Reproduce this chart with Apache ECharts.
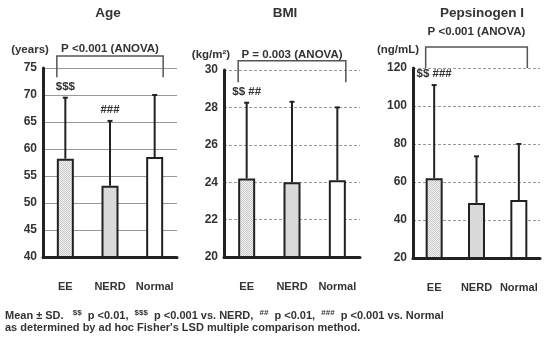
<!DOCTYPE html>
<html>
<head>
<meta charset="utf-8">
<script src="https://cdn.jsdelivr.net/npm/echarts@6/dist/echarts.min.js"></script>
<style>
  html, body { margin: 0; padding: 0; background: #fff; }
  #main { width: 545px; height: 340px; }
</style>
</head>
<body>
<div id="main"></div>
<script>
// data
const categories = ['EE', 'NERD', 'Normal'];
const ageMean = [58.2, 53.2, 58.5];
const ageSD = [11.3, 12.0, 11.5];
const bmiMean = [24.2, 24.0, 24.1];
const bmiSD = [4.05, 4.3, 3.9];
const pgMean = [62, 49, 50.5];
const pgSD = [49, 24.5, 29.5];
const ageMarks = ['$$$', '###', ''];
const bmiMarks = ['$$ ##', '', ''];
const pgMarks = ['$$ ###', '', ''];
const panelTitles = ['Age', 'BMI', 'Pepsinogen I'];
const unitLabels = ['(years)', '(kg/m²)', '(ng/mL)'];
const anovaLabels = ['P <0.001 (ANOVA)', 'P = 0.003 (ANOVA)', 'P <0.001 (ANOVA)'];
// bracket [top, end] in axis units
const bracketY = [[77.2, 73.3], [30.5, 29.35], [131, 120]];

const FONT = "'Liberation Sans', Arial, sans-serif";
const INK = '#222';

// dotted fill for EE bars
const pat = document.createElement('canvas');
pat.width = 2; pat.height = 2;
const pc = pat.getContext('2d');
pc.fillStyle = '#f3f3f3'; pc.fillRect(0, 0, 2, 2);
pc.fillStyle = '#c9c9c9'; pc.fillRect(0, 0, 1, 1); pc.fillRect(1, 1, 1, 1);
const barFills = [{ image: pat, repeat: 'repeat' }, '#d9d9d9', '#ffffff'];

const panels = [
  { mean: ageMean, sd: ageSD, marks: ageMarks, min: 40, max: 75, interval: 5, solid: true,
    grid: { left: 43, top: 68, width: 134, height: 189 }, titleX: 108, titleY: 13, unitX: 30, unitY: 50, pGap: 1 },
  { mean: bmiMean, sd: bmiSD, marks: bmiMarks, min: 20, max: 30, interval: 2, solid: false,
    grid: { left: 224, top: 70, width: 136, height: 187 }, titleX: 285, titleY: 13, unitX: 211, unitY: 55, pGap: 0 },
  { mean: pgMean, sd: pgSD, marks: pgMarks, min: 20, max: 120, interval: 20, solid: false,
    grid: { left: 413, top: 68, width: 127, height: 190 }, titleX: 482, titleY: 13, unitX: 398, unitY: 50, pGap: 9 }
];

const chart = echarts.init(document.getElementById('main'), null, { renderer: 'canvas' });

const grids = [], xAxes = [], yAxes = [], series = [], graphics = [];

panels.forEach((p, k) => {
  grids.push(p.grid);
  xAxes.push({
    type: 'category', gridIndex: k, data: categories,
    axisLine: { lineStyle: { color: INK, width: 3 } },
    axisTick: { show: false },
    axisLabel: { interval: 0, color: '#333', fontWeight: 'bold', fontSize: 11, fontFamily: FONT, margin: 24 }
  });
  yAxes.push({
    type: 'value', gridIndex: k, min: p.min, max: p.max, interval: p.interval,
    axisLine: { show: true, lineStyle: { color: INK, width: 3 } },
    axisTick: { show: false },
    axisLabel: { color: '#333', fontWeight: 'bold', fontSize: 12, fontFamily: FONT, margin: 6 },
    splitLine: { lineStyle: { color: '#999', width: 1, type: p.solid ? 'solid' : [3, 2] } }
  });

  series.push({
    type: 'bar', xAxisIndex: k, yAxisIndex: k, barWidth: 17, z: 2,
    data: p.mean.map((v, i) => ({ value: v, itemStyle: { color: barFills[i] } })),
    itemStyle: { borderColor: INK, borderWidth: 2 }
  });

  // upper error bars and significance marks
  series.push({
    type: 'custom', xAxisIndex: k, yAxisIndex: k, z: 3, clip: false,
    data: p.mean.map((m, i) => [i, m, m + p.sd[i]]),
    renderItem: (params, api) => {
      const lo = api.coord([api.value(0), api.value(1)]);
      const hi = api.coord([api.value(0), api.value(2)]);
      const mark = p.marks[params.dataIndex];
      const kids = [
        { type: 'line', shape: { x1: lo[0], y1: lo[1], x2: hi[0], y2: hi[1] }, style: { stroke: INK, lineWidth: 2 } },
        { type: 'line', shape: { x1: hi[0] - 2.5, y1: hi[1], x2: hi[0] + 2.5, y2: hi[1] }, style: { stroke: INK, lineWidth: 2 } }
      ];
      if (mark) {
        kids.push({ type: 'text', x: hi[0], y: hi[1] - 5,
          style: { text: mark, fill: '#333', font: 'bold 11.5px ' + FONT, textAlign: 'center', textVerticalAlign: 'bottom' } });
      }
      return { type: 'group', children: kids };
    }
  });

  // ANOVA bracket
  series.push({
    type: 'custom', xAxisIndex: k, yAxisIndex: k, z: 4, clip: false,
    data: [[0, 2, bracketY[k][0], bracketY[k][1]]],
    renderItem: (params, api) => {
      const a = api.coord([api.value(0), api.value(2)]);
      const b = api.coord([api.value(1), api.value(2)]);
      const end = api.coord([api.value(0), api.value(3)])[1];
      const x1 = a[0] - 8.5, x2 = b[0] + 8.5, yt = a[1];
      return { type: 'group', children: [
        { type: 'polyline', shape: { points: [[x1, end], [x1, yt], [x2, yt], [x2, end]] },
          style: { stroke: '#555', lineWidth: 1.5, fill: null } },
        { type: 'text', x: (x1 + x2) / 2, y: yt - p.pGap,
          style: { text: anovaLabels[k], fill: '#333', font: 'bold 11.5px ' + FONT, textAlign: 'center', textVerticalAlign: 'bottom' } }
      ] };
    }
  });

  graphics.push({ type: 'text', x: p.titleX, y: p.titleY,
    style: { text: panelTitles[k], fill: '#333', font: 'bold 13.5px ' + FONT, textAlign: 'center', textVerticalAlign: 'middle' } });
  graphics.push({ type: 'text', x: p.unitX, y: p.unitY,
    style: { text: unitLabels[k], fill: '#333', font: 'bold 11.5px ' + FONT, textAlign: 'center', textVerticalAlign: 'middle' } });
});

graphics.push({
  type: 'text', left: 5, top: 309,
  style: {
    text: 'Mean ± SD.   {s|$$}  p <0.01,  {s|$$$}  p <0.001 vs. NERD,  {s|##}  p <0.01,  {s|###}  p <0.001 vs. Normal\nas determined by ad hoc Fisher\'s LSD multiple comparison method.',
    fill: '#333', font: 'bold 11px ' + FONT, lineHeight: 12,
    rich: { s: { fontSize: 8, fontWeight: 'bold', fontFamily: FONT, fill: '#333', padding: [0, 0, 5, 0] } }
  }
});

chart.setOption({
  animation: false,
  backgroundColor: '#fff',
  grid: grids,
  xAxis: xAxes,
  yAxis: yAxes,
  series: series,
  graphic: graphics
});
</script>
</body>
</html>
